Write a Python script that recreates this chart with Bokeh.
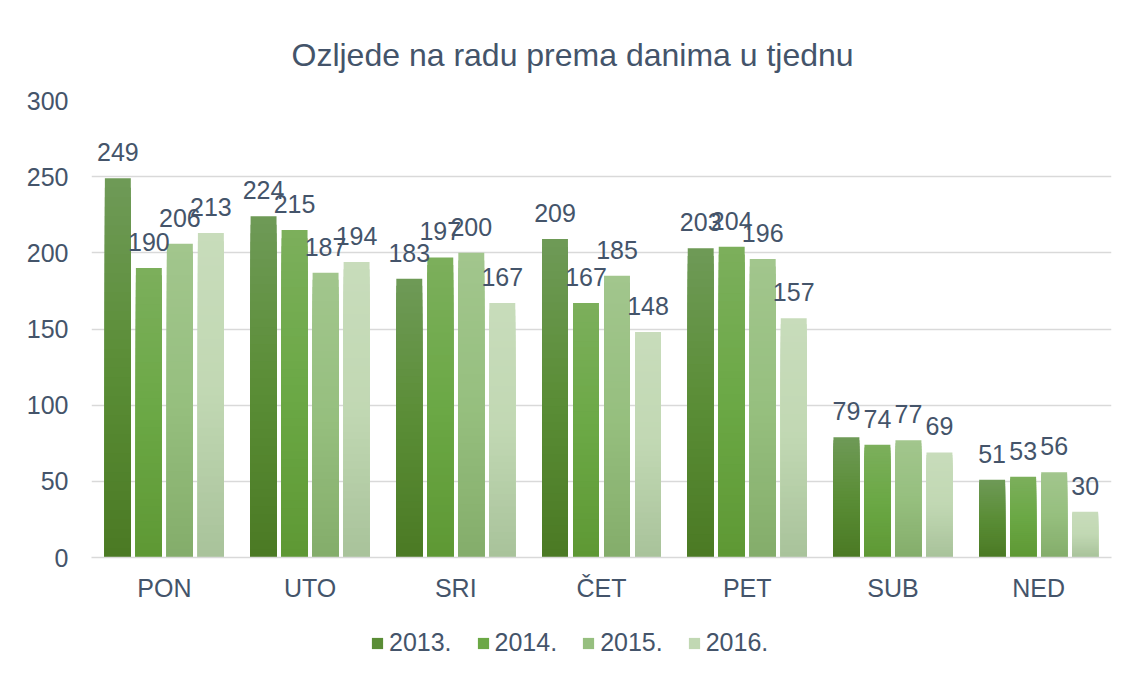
from bokeh.plotting import figure
from bokeh.layouts import column
from bokeh.models import (ColumnDataSource, FactorRange, Range1d, Legend, LegendItem,
                          FixedTicker, LabelSet)
from bokeh.core.properties import value
from bokeh.transform import dodge
from bokeh.embed import file_html
from bokeh.resources import INLINE

days = ["PON", "UTO", "SRI", "ČET", "PET", "SUB", "NED"]
years = ["2013.", "2014.", "2015.", "2016."]
v2013 = [249, 224, 183, 209, 203, 79, 51]
v2014 = [190, 215, 197, 167, 204, 74, 53]
v2015 = [206, 187, 200, 185, 196, 77, 56]
v2016 = [213, 194, 167, 148, 157, 69, 30]
series = [v2013, v2014, v2015, v2016]

# gradient stops per series: (top, middle, bottom)
grad = [
    ("#6F9A57", "#5A8D36", "#4B7A24"),
    ("#7CAF5C", "#6BA845", "#5E9834"),
    ("#A2C68D", "#96BF7F", "#84AD6A"),
    ("#C8DCBB", "#C1D8B3", "#A8C29A"),
]
TEXT = "#44546A"
GRID = "#D9D9D9"
FONT = "Liberation Sans"
N = 40  # gradient slices per bar


def hex2rgb(h):
    h = h.lstrip("#")
    return tuple(int(h[i:i + 2], 16) for i in (0, 2, 4))


def mix(c1, c2, t):
    a, b = hex2rgb(c1), hex2rgb(c2)
    return "#%02x%02x%02x" % tuple(int(round(a[i] + (b[i] - a[i]) * t)) for i in range(3))


def grad_color(stops, f):
    top, mid, bot = stops
    if f < 0.5:
        return mix(bot, mid, f / 0.5)
    return mix(mid, top, (f - 0.5) / 0.5)


p = figure(width=1120, height=610, x_range=FactorRange(*days, range_padding=0),
           y_range=Range1d(0, 300), output_backend="svg", toolbar_location=None,
           min_border_left=91, min_border_right=9, min_border_top=100, min_border_bottom=53,
           title="Ozljede na radu prema danima u tjednu")

p.title.text_font = FONT
p.title.text_font_size = "32px"
p.title.text_font_style = "normal"
p.title.text_color = TEXT
p.title.align = "left"
p.title.offset = 200
p.title.standoff = 55

p.outline_line_color = None
p.xgrid.grid_line_color = None
p.ygrid.grid_line_color = GRID
p.ygrid.grid_line_width = 1.5

p.yaxis.ticker = FixedTicker(ticks=[0, 50, 100, 150, 200, 250, 300])
p.yaxis.axis_line_color = None
p.yaxis.major_tick_line_color = None
p.yaxis.minor_tick_line_color = None
p.yaxis.major_label_text_font = FONT
p.yaxis.major_label_text_font_size = "25px"
p.yaxis.major_label_text_color = TEXT
p.yaxis.major_label_standoff = 17

p.xaxis.axis_line_color = GRID
p.xaxis.axis_line_width = 1.5
p.xaxis.major_tick_line_color = None
p.xaxis.minor_tick_line_color = None
p.xaxis.major_label_text_font = FONT
p.xaxis.major_label_text_font_size = "25px"
p.xaxis.major_label_text_color = TEXT
p.xaxis.major_label_standoff = 10

step = 0.2128
width = 0.178
offsets = [(-1.5 + i) * step for i in range(4)]

for si, (vals, stops, off) in enumerate(zip(series, grad, offsets)):
    xs, tops, cols = [], [], []
    for d, v in zip(days, vals):
        # tallest first; each shorter layer paints over the lower part
        for k in range(N, 0, -1):
            xs.append(d)
            tops.append(v * k / N)
            cols.append(grad_color(stops, (k - 0.5) / N))
    src = ColumnDataSource(dict(x=xs, top=tops, color=cols))
    p.vbar(x=dodge("x", off, range=p.x_range), bottom=0, top="top", width=width,
           fill_color="color", line_color=None, source=src)

    lsrc = ColumnDataSource(dict(x=days, y=vals, t=[str(v) for v in vals]))
    labels = LabelSet(x=dodge("x", off, range=p.x_range), y="y", text="t", source=lsrc,
                      text_align="center", text_baseline="alphabetic", y_offset=17,
                      text_font=value(FONT), text_font_size="25px", text_color=TEXT)
    p.add_layout(labels)

# legend strip below the chart (legend keys use hidden, out-of-range proxies)
p2 = figure(width=1120, height=64, x_range=Range1d(0, 1), y_range=Range1d(0, 1),
            output_backend="svg", toolbar_location=None, x_axis_type=None, y_axis_type=None,
            min_border=0)
p2.outline_line_color = None
p2.grid.grid_line_color = None
items = []
for si, stops in enumerate(grad):
    r = p2.vbar(x=[-5], bottom=[-5], top=[-4], width=0.1, fill_color=stops[1], line_color=None)
    items.append(LegendItem(label=years[si], renderers=[r], index=0))

legend = Legend(items=items, orientation="horizontal", location=(279, 17),
                glyph_width=14, glyph_height=14, label_standoff=5, spacing=24,
                padding=0, margin=0, border_line_color=None, background_fill_alpha=0,
                label_text_font=FONT, label_text_font_size="25px", label_text_color=TEXT)
p2.add_layout(legend, "center")

open("out.html", "w").write(file_html(column(p, p2, spacing=0), INLINE))
